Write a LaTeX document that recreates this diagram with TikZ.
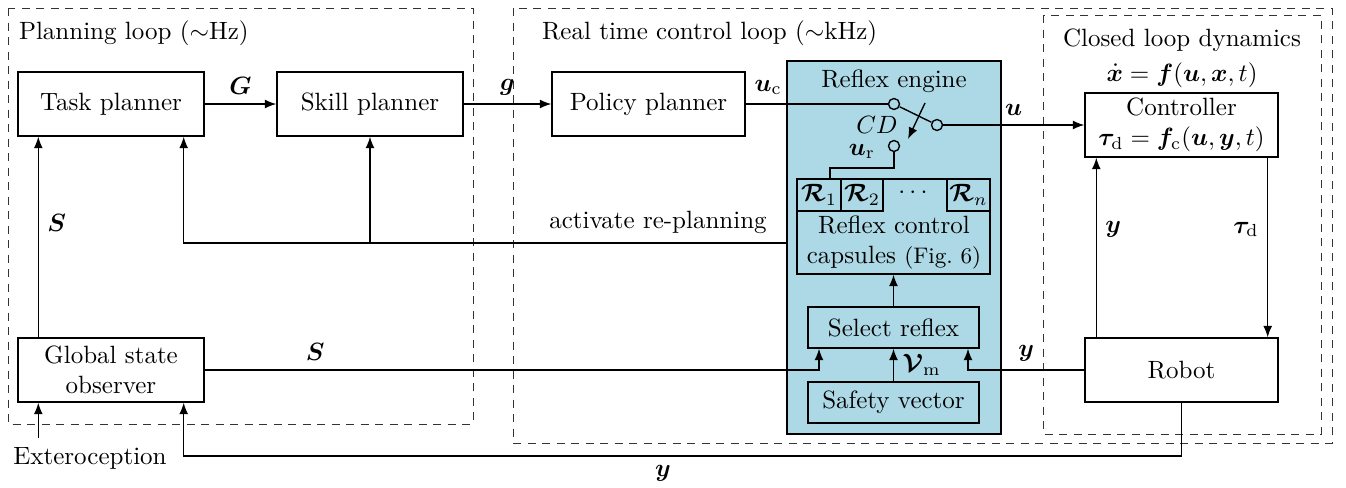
\documentclass[tikz,border=0pt]{standalone}
\usepackage{amsmath, amssymb, bm}
\usetikzlibrary{arrows.meta}
\definecolor{reflexblue}{RGB}{173,216,230}

\begin{document}
\begin{tikzpicture}[x=0.4pt, y=-0.4pt, line width=0.55pt, >={Latex[length=4.6pt,width=3.6pt]},
        blk/.style={draw, align=center, minimum height=25.6pt, inner sep=2pt},
        loopbox/.style={draw=black!80, line width=0.4pt, dash pattern=on 3.2pt off 2.6pt},
        pin/.style={draw, circle, fill=reflexblue, minimum size=4.4pt, inner sep=0pt}]
        \useasboundingbox (0,0) rectangle (1346,487);
        % loops
        \draw[loopbox] (8,8) rectangle (473,424);
        \draw[loopbox] (513,8) rectangle (1332,443);
        \draw[loopbox] (1043,15) rectangle (1321,434);
        \node[right] at (10,33) {Planning loop ($\sim$Hz)};
        \node[right] at (533,33) {Real time control loop ($\sim$kHz)};
        \node[align=center, inner sep=0pt] at (1182,58) {Closed loop dynamics\\[2pt]$\dot{\bm{x}}=\bm{f}(\bm{u},\bm{x},t)$};
        % blocks
        \draw (111,104)    node[blk, minimum width=74.4pt] (task) {Task planner};
        \draw (370,104)    node[blk, minimum width=74.4pt] (skill) {Skill planner};
        \draw (648.5,104)  node[blk, minimum width=77.2pt] (policy) {Policy planner};
        \draw (111,370)    node[blk, minimum width=74.4pt] (gso) {Global state\\observer};
        \draw (1181.5,125) node[blk, minimum width=77.2pt] (ctrl) {Controller\\$\bm{\tau}_\mathrm{d}=\bm{f}_\mathrm{c}(\bm{u},\bm{y},t)$};
        \draw (1181.5,370) node[blk, minimum width=77.2pt] (robot) {Robot};
        \draw (90,458)     node (ext) {Exteroception};
        % reflex engine
        \draw (894,247.5)  node[blk, fill=reflexblue, minimum width=85.6pt, minimum height=149.2pt] (engine) {};
        \node at (894,81) {Reflex engine};
        \draw (893.5,226.5) node[blk, minimum width=77.2pt, minimum height=38pt] (caps) {};
        \draw (819,195)    node[blk, minimum width=17.6pt, minimum height=12.8pt, inner sep=0pt] (r1) {$\bm{\mathcal{R}}_1$};
        \draw (862,195)    node[blk, minimum width=16.8pt, minimum height=12.8pt, inner sep=0pt] (r2) {$\bm{\mathcal{R}}_2$};
        \draw (968.5,195)  node[blk, minimum width=17.2pt, minimum height=12.8pt, inner sep=0pt] (rn) {$\bm{\mathcal{R}}_n$};
        \node at (915,193) {$\cdots$};
        \node[align=center] at (894,242) {Reflex control\\capsules {\small (Fig.~6)}};
        \draw (893.5,327.5) node[blk, minimum width=68.4pt, minimum height=16.4pt] (sel) {Select reflex};
        \draw (893.5,402.5) node[blk, minimum width=68.4pt, minimum height=16.4pt] (safety) {Safety vector};
        % switch
        \draw (894,104) node[pin] (sw1) {};
        \draw (937,125) node[pin] (sw2) {};
        \draw (894,146) node[pin] (sw3) {};
        \draw (sw1) -- (sw2);
        \coordinate (cd1) at (925,103);
        \coordinate (cd2) at (908,139);
        \draw[->] (cd1) -- (cd2);
        \node at (877,125) {$CD$};
        % connectors
        \coordinate (urk) at (830,168);
        \coordinate (sin) at (819,370);
        \coordinate (yin) at (968,370);
        \coordinate (rp)  at (787,243);
        \coordinate (yb)  at (663,456);
        \coordinate (ein) at ([xshift=8.4pt]gso.south west);
        \draw[->] (task) -- (skill) node [midway, above] {$\bm{G}$};
        \draw[->] (skill) -- (policy) node [midway, above] {$\bm{g}$};
        \draw (policy) -- (sw1) node [pos=0, above right] {$\bm{u}_\mathrm{c}$};
        \draw[->] (sw2) -- (ctrl.west) node [midway, above] {$\bm{u}$};
        \draw (sw3) -- (sw3 |- urk) -- (urk) node [midway, above] {$\bm{u}_\mathrm{r}$} -- (urk |- r1.north);
        \draw[->] (sel) -- (caps);
        \draw[->] (safety) -- (sel) node [midway, right] {$\bm{\mathcal{V}}_\mathrm{m}$};
        \draw[->] (gso) -- (sin) node [pos=0.18, above] {$\bm{S}$} -- (sin |- sel.south);
        \draw[->] (robot) -- (yin) node [midway, above] {$\bm{y}$} -- (yin |- sel.south);
        \draw[->] ([xshift=4.8pt]robot.north west) -- ([xshift=4.8pt]ctrl.south west) node [pos=0.6, right] {$\bm{y}$};
        \draw[->] ([xshift=-4.4pt]ctrl.south east) -- ([xshift=-4.4pt]robot.north east) node [pos=0.4, left] {$\bm{\tau}_\mathrm{d}$};
        \draw[->] ([xshift=8.4pt]gso.north west) -- ([xshift=8.4pt]task.south west) node [pos=0.57, right] {$\bm{S}$};
        \draw[->] (rp) -| ([xshift=-8.4pt]task.south east);
        \draw[->] (skill.south |- rp) -- (skill.south);
        \node[above] at (658,243) {activate re-planning};
        \draw[->] (ext.north -| ein) -- (ein);
        \draw[->] (robot.south) |- (yb) -| ([xshift=-8.4pt]gso.south east);
        \node[below] at (yb) {$\bm{y}$};
    \end{tikzpicture}
\end{document}
